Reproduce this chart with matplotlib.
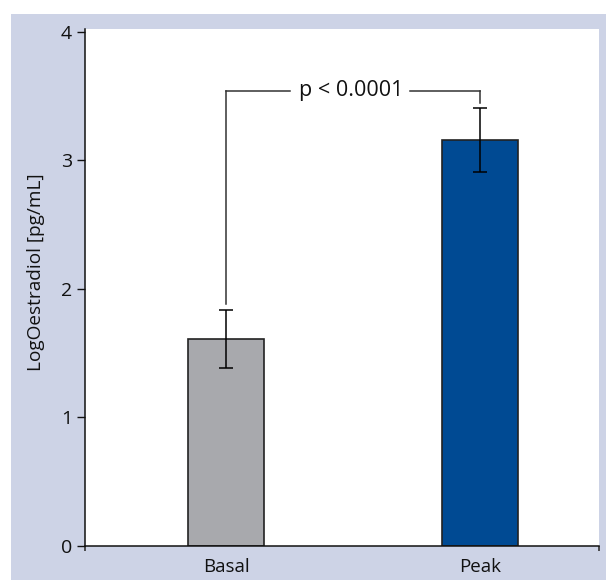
import matplotlib
matplotlib.use("Agg")
import matplotlib.pyplot as plt
from matplotlib.patches import Rectangle

categories = ["Basal", "Peak"]
values = [1.61, 3.16]
errors = [0.226, 0.25]
bar_colors = ["#A8A9AD", "#004A93"]
y_ticks = [0, 1, 2, 3, 4]
ylabel = "LogOestradiol [pg/mL]"
p_text = "p < 0.0001"

plt.rcParams['font.family'] = ['Open Sans', 'DejaVu Sans']

W, H = 606, 580
fig = plt.figure(figsize=(W / 100, H / 100), dpi=100, facecolor="white")

# lavender background panel
fig.patches.append(Rectangle((11 / W, 0), 1 - 11 / W, 1 - 14 / H,
                             transform=fig.transFigure, facecolor="#CDD3E6",
                             edgecolor="none", zorder=-10))

ax = fig.add_axes([85 / W, (H - 546) / H, (599 - 85) / W, (546 - 29) / H])
ax.set_zorder(1)
ax.set_facecolor("white")

x = list(range(len(categories)))
ax.bar(x, values, width=0.3, color=bar_colors, edgecolor="#222222",
       linewidth=1.2, zorder=2)
ax.errorbar(x, values, yerr=errors, fmt="none", ecolor="black",
            elinewidth=1.1, capsize=4.8, capthick=1.1, zorder=3)

ax.set_xlim(-0.555, 1.468)
ax.set_ylim(0, 4.023)

for s in ["top", "right"]:
    ax.spines[s].set_visible(False)
for s in ["left", "bottom"]:
    ax.spines[s].set_linewidth(1.1)
    ax.spines[s].set_color("#111111")

ax.set_yticks(y_ticks)
ax.set_yticklabels([str(t) for t in y_ticks])
ax.tick_params(axis="y", direction="out", length=5.8, width=1.0,
               pad=3.5, labelsize=14, colors="#111111")
ax.set_xticks(x)
ax.set_xticklabels(categories)
ax.tick_params(axis="x", which="major", length=0, pad=9, labelsize=13.5,
               colors="#111111")
ax.set_xticks([-0.555, 1.468], minor=True)
ax.tick_params(axis="x", which="minor", direction="out", length=3.6, width=1.2,
               colors="#333333")

fig.text(36 / W, 1 - 272 / H, ylabel, rotation=90, ha="center", va="center",
         fontsize=13.7, color="#111111")

# significance bracket
y_top = 3.541
bc = "#333333"
ax.plot([0, 0], [1.883, y_top], color=bc, lw=1.1, zorder=4)
ax.plot([0, 0.252], [y_top, y_top], color=bc, lw=1.1, zorder=4)
ax.plot([0.7245, 1], [y_top, y_top], color=bc, lw=1.1, zorder=4)
ax.plot([1, 1], [y_top, 3.447], color=bc, lw=1.1, zorder=4)
ax.text(0.492, y_top, p_text, ha="center", va="center", fontsize=15.5,
        color="#111111")

fig.savefig("out.png", dpi=100, facecolor="white")
